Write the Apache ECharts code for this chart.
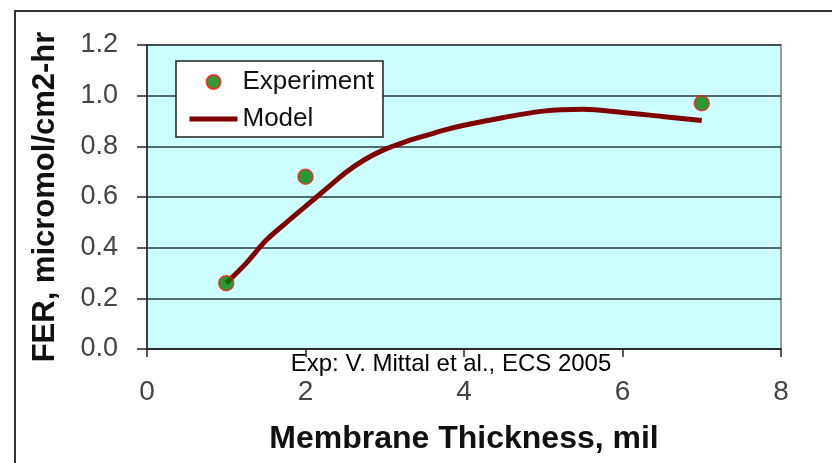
<!DOCTYPE html>
<html>
<head>
<meta charset="utf-8">
<script src="https://cdn.jsdelivr.net/npm/echarts@6/dist/echarts.min.js"></script>
<style>
  html, body { margin: 0; padding: 0; background: #fff; }
  #chartWrapper { width: 832px; height: 463px; }
</style>
</head>
<body>
<div id="chartWrapper"></div>
<script>
// measured points
let expX = [1, 2, 7];
let expY = [0.26, 0.68, 0.97];

// model curve
let modelX = [1, 1.25, 1.5, 1.75, 2, 2.25, 2.5, 2.75, 3, 3.25, 3.5, 3.75, 4, 4.5, 5, 5.5, 6, 6.5, 7];
let modelY = [0.26, 0.338, 0.428, 0.497, 0.563, 0.629, 0.695, 0.748, 0.788, 0.817, 0.841, 0.864, 0.883, 0.914, 0.939, 0.946, 0.934, 0.918, 0.902];

let xTicks = [0, 2, 4, 6, 8];
let yTicks = [0, 0.2, 0.4, 0.6, 0.8, 1.0, 1.2];

let fontFam = 'Arial, "Liberation Sans", sans-serif';

function initFerChart() {
    let myChart = echarts.init(document.getElementById('chartWrapper'));

    let expData = expX.map(function (x, i) { return [x, expY[i]]; });
    let modelData = modelX.map(function (x, i) { return [x, modelY[i]]; });

    let option = {
        animation: false,
        backgroundColor: '#fff',
        grid: {
            left: 147,
            right: 51,
            top: 45,
            bottom: 114,
            show: true,
            backgroundColor: '#ccffff',
            borderColor: '#999',
            borderWidth: 2
        },
        legend: {
            orient: 'vertical',
            left: 176,
            top: 61,
            padding: [8, 9, 5, 11],
            itemGap: 11,
            itemWidth: 48,
            itemHeight: 14,
            backgroundColor: '#fff',
            borderColor: '#222',
            borderWidth: 1.5,
            borderRadius: 0,
            lineStyle: { width: 5 },
            data: [
                { name: 'Experiment' },
                // line only, no dot in the key
                { name: 'Model', itemStyle: { opacity: 0 } }
            ],
            textStyle: {
                fontFamily: fontFam,
                fontSize: 26,
                color: '#111'
            }
        },
        xAxis: {
            type: 'value',
            min: xTicks[0],
            max: xTicks[xTicks.length - 1],
            interval: 2,
            name: 'Membrane Thickness, mil',
            nameLocation: 'middle',
            nameGap: 74,
            nameTextStyle: {
                fontFamily: fontFam,
                fontSize: 32,
                fontWeight: 'bold',
                color: '#111'
            },
            axisLine: { show: true, lineStyle: { color: '#222', width: 1.5 } },
            axisTick: { show: true, length: 8, lineStyle: { color: '#222', width: 1.5 } },
            axisLabel: {
                margin: 29,
                fontFamily: fontFam,
                fontSize: 28,
                color: '#444'
            },
            splitLine: { show: false }
        },
        yAxis: {
            type: 'value',
            min: yTicks[0],
            max: yTicks[yTicks.length - 1],
            interval: 0.2,
            name: 'FER, micromol/cm2-hr',
            nameLocation: 'middle',
            nameGap: 86,
            nameTextStyle: {
                fontFamily: fontFam,
                fontSize: 31,
                fontWeight: 'bold',
                color: '#111'
            },
            axisLine: { show: true, lineStyle: { color: '#222', width: 1.5 } },
            axisTick: { show: true, length: 10, lineStyle: { color: '#222', width: 1.5 } },
            axisLabel: {
                margin: 29,
                fontFamily: fontFam,
                fontSize: 27,
                color: '#444',
                formatter: function (v) { return v.toFixed(1); }
            },
            splitLine: { show: true, lineStyle: { color: '#2a3a3a', width: 1.5 } }
        },
        graphic: [
            {
                type: 'rect',
                silent: true,
                shape: { x: 15, y: 11, width: 840, height: 480 },
                style: { fill: null, stroke: '#333', lineWidth: 2 }
            },
            {
                type: 'text',
                silent: true,
                x: 451,
                y: 364,
                z: 10,
                style: {
                    text: 'Exp: V. Mittal et al., ECS 2005',
                    fontFamily: fontFam,
                    fontSize: 24,
                    fill: '#000',
                    align: 'center',
                    verticalAlign: 'middle'
                }
            }
        ],
        series: [
            {
                name: 'Model',
                type: 'line',
                data: modelData,
                smooth: 0.3,
                symbol: 'none',
                z: 2,
                itemStyle: { color: '#800000' },
                lineStyle: { color: '#800000', width: 5 }
            },
            {
                name: 'Experiment',
                type: 'scatter',
                data: expData,
                symbol: 'circle',
                symbolSize: 15,
                z: 3,
                itemStyle: {
                    color: '#008000',
                    borderColor: '#ff1a1a',
                    borderWidth: 1.5
                }
            }
        ]
    };

    myChart.setOption(option);
}

initFerChart();
</script>
</body>
</html>
